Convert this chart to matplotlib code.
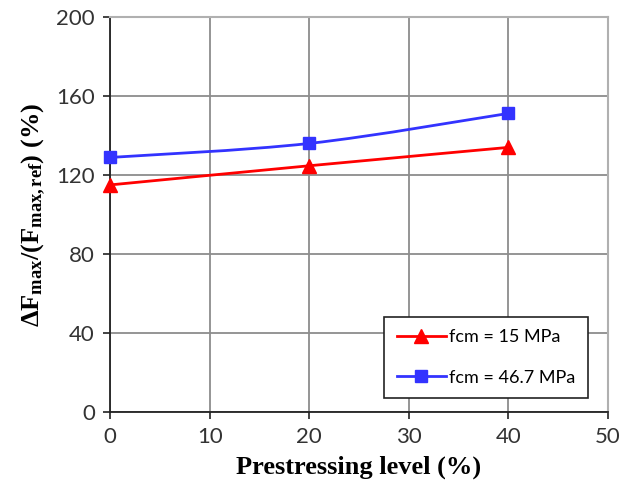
import numpy as np
import matplotlib
matplotlib.use("Agg")
import matplotlib.pyplot as plt
from matplotlib.path import Path
from matplotlib.patches import PathPatch
from matplotlib.lines import Line2D

plt.rcParams["mathtext.fontset"] = "custom"
plt.rcParams["mathtext.rm"] = "Liberation Serif"
plt.rcParams["mathtext.bf"] = "Liberation Serif:bold"
plt.rcParams["mathtext.it"] = "Liberation Serif:italic"

# data
prestress = [0, 20, 40]
fcm15 = [115.0, 124.7, 134.0]
fcm467 = [128.9, 136.0, 151.2]
labels = ["fcm = 15 MPa", "fcm = 46.7 MPa"]
x_ticks = [0, 10, 20, 30, 40, 50]
y_ticks = [0, 40, 80, 120, 160, 200]


def smooth_path(xs, ys):
    # excel style smoothed line: catmull-rom segments as cubic beziers
    pts = np.column_stack([xs, ys]).astype(float)
    ext = np.vstack([pts[0], pts, pts[-1]])
    verts = [pts[0]]
    codes = [Path.MOVETO]
    for i in range(1, len(ext) - 2):
        p0, p1, p2, p3 = ext[i - 1], ext[i], ext[i + 1], ext[i + 2]
        verts += [p1 + (p2 - p0) / 6, p2 - (p3 - p1) / 6, p2]
        codes += [Path.CURVE4] * 3
    return Path(verts, codes)


fig = plt.figure(figsize=(6.36, 4.99), dpi=100)
ax = fig.add_axes([0.173, 0.174, 0.783, 0.792])

grid_col = "#8c8c8c"
series = [
    (fcm15, "#ff0000", "^", 10),
    (fcm467, "#3333ff", "s", 8.5),
]
handles = []
for vals, col, mk, ms in series:
    ax.add_patch(PathPatch(smooth_path(prestress, vals), fill=False,
                           edgecolor=col, lw=2, zorder=3))
    ax.plot(prestress, vals, ls="none", marker=mk, ms=ms, color=col,
            clip_on=False, zorder=4)
    handles.append(Line2D([], [], color=col, lw=2, marker=mk, ms=ms))

ax.set_xlim(0, 50)
ax.set_ylim(0, 200)
ax.set_xticks(x_ticks)
ax.set_yticks(y_ticks)
ax.grid(True, color=grid_col, lw=1.3)
ax.set_axisbelow(True)

for s in ["top", "right"]:
    ax.spines[s].set_color("#b0b0b0")
    ax.spines[s].set_linewidth(1.5)
for s in ["left", "bottom"]:
    ax.spines[s].set_color("#222222")
    ax.spines[s].set_linewidth(1.3)

ax.tick_params(direction="out", length=5, width=1.2, color="#222222",
               labelsize=16, labelcolor="#333333", pad=6)
for lab in ax.get_xticklabels() + ax.get_yticklabels():
    lab.set_family("Lato")

ax.set_xlabel("Prestressing level (%)", family="Liberation Serif",
              fontweight="bold", fontsize=19, labelpad=6)
ax.set_ylabel(r"$\mathbf{\Delta F_{max}/(F_{max,ref})}$ (%)",
              family="Liberation Serif", fontweight="bold", fontsize=19,
              labelpad=6)

leg = ax.legend(handles, labels, loc="lower right",
                bbox_to_anchor=(0.96, 0.035), frameon=True, fancybox=False,
                edgecolor="#222222", framealpha=1,
                prop={"family": "Lato", "size": 13},
                handlelength=2.7, borderpad=0.7, labelspacing=1.35,
                handletextpad=0.2, borderaxespad=0)
leg.get_frame().set_linewidth(1.2)

fig.savefig("out.png", dpi=100)
